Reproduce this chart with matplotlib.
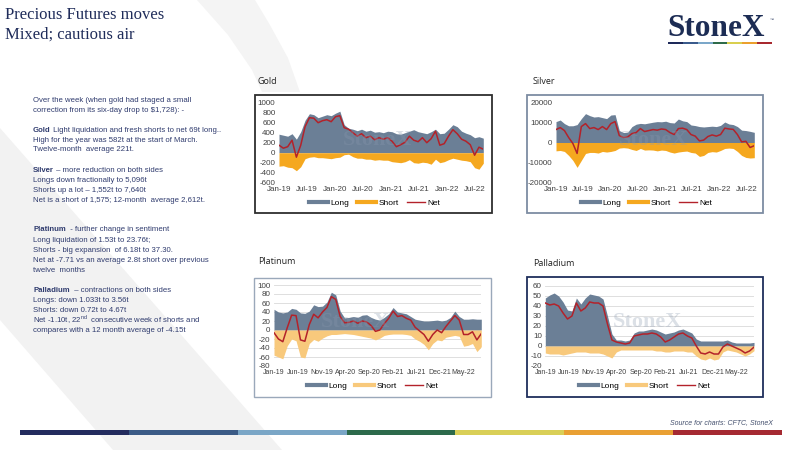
import pandas as pd
import matplotlib.pyplot as plt
from matplotlib.lines import Line2D
from matplotlib.patches import Rectangle, Polygon

plt.rcParams['font.family'] = ['Liberation Sans', 'DejaVu Sans']
plt.rcParams['axes.unicode_minus'] = False
plt.rcParams['mathtext.fontset'] = 'custom'
plt.rcParams['mathtext.rm'] = 'Liberation Sans'

# weekly CFTC positions, sampled roughly every four weeks (tonnes)
start, end = '2019-01-01', '2022-08-23'

gold_long = [370, 350, 330, 380, 270, 420, 650, 780, 760, 700, 730, 760, 740, 790, 830, 560,
             490, 470, 440, 470, 430, 450, 410, 420, 400, 430, 420, 380, 370, 400, 430, 460,
             420, 400, 380, 420, 470, 380, 390, 470, 560, 520, 430, 390, 360, 300, 320, 290]
gold_short = [-270, -260, -290, -300, -360, -280, -120, -90, -80, -100, -100, -110, -120, -100, -90, -40,
              -30, -80, -110, -110, -130, -130, -150, -140, -150, -150, -180, -190, -200, -180, -140, -200,
              -210, -190, -200, -230, -130, -200, -180, -140, -110, -130, -150, -160, -180, -300, -330, -210]
gold_net = [150, 90, 120, 250, -90, 150, 520, 700, 690, 600, 640, 660, 620, 720, 740, 500,
            470, 400, 330, 380, 300, 330, 260, 300, 270, 300, 230, 120, 160, 210, 330, 250,
            220, 300, 200, 280, 430, 150, 180, 330, 460, 380, 270, 230, 160, -50, 110, 70]

silver_long = [10500, 11300, 9500, 8400, 8400, 9000, 12000, 14500, 13500, 12800, 13000, 12500,
               12000, 13800, 14000, 6000, 5000, 5200, 8000, 9200, 9600, 9400, 9800, 10200,
               10500, 10400, 10700, 10000, 9800, 11800, 10900, 10500, 8800, 8500, 8000, 7800,
               8000, 8200, 8000, 8600, 10300, 9300, 9000, 8000, 6200, 6000, 5600, 5100]
silver_short = [-4200, -4000, -4500, -6500, -9000, -12500, -9000, -5500, -5000, -5000, -5300, -4500,
                -4800, -4500, -4000, -2800, -2600, -2800, -3500, -4000, -3000, -3800, -3700, -3800,
                -4200, -3800, -4000, -4800, -5300, -4800, -4500, -4300, -5000, -5300, -7000, -6500,
                -5000, -4600, -4800, -4000, -3000, -2800, -3000, -4500, -6500, -7500, -7800, -7640]
silver_net = [6500, 7500, 6000, 2500, -500, -5500, 8000, 9500, 7000, 7500, 6500, 8000,
              6500, 9500, 10500, 3500, 2500, 2800, 4500, 5000, 7000, 5500, 6000, 6500,
              6200, 6800, 6500, 5000, 4000, 7000, 7200, 6500, 4000, 3200, 800, 1200,
              3000, 3800, 3200, 4000, 7200, 6800, 6600, 4000, 300, 600, -2500, -1600]

plat_long = [46, 40, 38, 40, 48, 46, 38, 37, 42, 56, 52, 53, 62, 84, 78, 42,
             27, 28, 30, 28, 33, 34, 28, 24, 22, 28, 36, 50, 40, 38, 36, 30,
             24, 22, 20, 20, 21, 22, 20, 22, 28, 42, 30, 24, 24, 25, 24, 24]
plat_short = [-56, -60, -64, -35, -20, -24, -60, -62, -30, -21, -25, -18, -13, -10, -10, -9,
              -8, -9, -10, -12, -14, -16, -18, -22, -18, -12, -10, -9, -9, -9, -10, -12,
              -20, -25, -32, -44, -30, -22, -24, -16, -14, -12, -14, -36, -34, -30, -48, -37]
plat_net = [-6, -20, -26, 5, 33, 32, -22, -25, 12, 35, 27, 40, 50, 74, 68, 30,
            16, 17, 20, 15, 20, 18, 10, -3, 0, 14, 26, 42, 30, 32, 26, 22,
            6, -2, -10, -25, -10, 0, -6, 8, 20, 32, 22, -10, -10, -4, -22, -8]

pall_long = [48, 51, 53, 50, 44, 36, 35, 48, 42, 48, 52, 51, 50, 47, 30, 12,
             6, 6, 5, 6, 13, 15, 15, 16, 17, 16, 14, 12, 13, 14, 16, 17,
             15, 13, 7, 5, 5, 5, 5, 5, 5, 6, 4, 3, 3, 3, 3, 3.6]
pall_short = [-7, -8, -8, -8, -9, -8, -7, -6, -6, -6, -7, -7, -7, -8, -10, -12,
              -6, -4, -4, -4, -4, -4, -4, -4, -4, -5, -5, -6, -6, -5, -5, -5,
              -6, -6, -10, -13, -14, -12, -14, -13, -6, -4, -5, -6, -8, -10, -8, -4.7]
pall_net = [43, 41, 42, 40, 33, 27, 30, 43, 35, 38, 44, 43, 43, 40, 22, 6,
            4, 3, 2, 3, 10, 11, 12, 12, 13, 12, 9, 4, 6, 9, 12, 13,
            10, 8, 0, -7, -8, -6, -8, -8, -1, 2, 0, -2, -4, -7, -5, -1.1]

LONG = '#6B7F96'
NET = '#B3222A'
ORANGE = '#F5A81F'
PALE = '#F8C97C'
NAVY = '#1F2C5A'
BODY = '#2F3B6E'

W, H = 800, 450
fig = plt.figure(figsize=(8, 4.5), dpi=100)
fig.patch.set_facecolor('white')


def fx(x):
    return x / W


def fy(y):
    return 1 - y / H


# faint background swoosh
fig.add_artist(Polygon([(fx(0), fy(128)), (fx(282), fy(450)), (fx(113), fy(450)), (fx(0), fy(320))],
                       closed=True, transform=fig.transFigure, facecolor='#F2F2F2',
                       edgecolor='none', zorder=0))
fig.add_artist(Polygon([(fx(197), fy(0)), (fx(228), fy(35)), (fx(252), fy(70)), (fx(262), fy(92)),
                        (fx(300), fy(92)), (fx(288), fy(58)), (fx(270), fy(25)), (fx(255), fy(0))],
                       closed=True, transform=fig.transFigure, facecolor='#F4F4F4',
                       edgecolor='none', zorder=0))

# header
fig.text(fx(5), fy(15), 'Precious Futures moves', family='Liberation Serif', size=12,
         color=NAVY, va='center')
fig.text(fx(5), fy(35), 'Mixed; cautious air', family='Liberation Serif', size=12,
         color=NAVY, va='center')

# logo
fig.text(fx(667), fy(28), 'StoneX', family='Liberation Serif', weight='bold', size=22.5,
         color='#1C2C54', va='center')
fig.text(fx(770), fy(20), '\u2122', size=3, color='#1C2C54', va='center')
logo_colors = ['#1E2A5A', '#3A5B8C', '#7BA7C9', '#2E6B4A', '#D9CF4F', '#EBA02E', '#A8292F']
seg = (772 - 668) / len(logo_colors)
for i, c in enumerate(logo_colors):
    fig.add_artist(Rectangle((fx(668 + i * seg), fy(44)), seg / W, 2.5 / H,
                             transform=fig.transFigure, facecolor=c, edgecolor='none'))

# footer bar
foot_colors = ['#232C5E', '#3B5B86', '#7AA6C6', '#2D6A4B', '#D9CF57', '#E9A033', '#A52A32']
seg = (782 - 20) / len(foot_colors)
for i, c in enumerate(foot_colors):
    fig.add_artist(Rectangle((fx(20 + i * seg), fy(435)), seg / W, 5.5 / H,
                             transform=fig.transFigure, facecolor=c, edgecolor='none'))
fig.text(fx(773), fy(423), 'Source for charts: CFTC, StoneX', ha='right', va='center',
         style='italic', size=5, color='#44506E')

# commentary
renderer = fig.canvas.get_renderer()
kw = dict(size=5.6, color=BODY, va='center')


def line(y, text, bold=None):
    x = fx(33)
    if bold:
        t = fig.text(x, fy(y), bold, weight='bold', **kw)
        bb = t.get_window_extent(renderer)
        x = bb.x1 / W
    fig.text(x, fy(y), text, **kw)


line(100, 'Over the week (when gold had staged a small')
line(110, r'correction from its six-day drop to \$1,728): -')
line(130, ' Light liquidation and fresh shorts to net 69t long..', 'Gold')
line(140, 'High for the year was 582t at the start of March.')
line(150, 'Twelve-month  average 221t.')
line(170, ' \u2013 more reduction on both sides', 'Silver')
line(180, 'Longs down fractionally to 5,096t')
line(190, 'Shorts up a lot \u2013 1,552t to 7,640t')
line(200, 'Net is a short of 1,575; 12-month  average 2,612t.')
line(230, '  - further change in sentiment', 'Platinum')
line(240, 'Long liquidation of 1.53t to 23.76t;')
line(250, 'Shorts - big expansion  of 6.18t to 37.30.')
line(260, 'Net at -7.71 vs an average 2.8t short over previous')
line(270, 'twelve  months')
line(290, '  \u2013 contractions on both sides', 'Palladium')
line(300, 'Longs: down 1.033t to 3.56t')
line(310, 'Shorts: down 0.72t to 4.67t')
line(320, r'Net -1.10t, 22$^{\mathrm{nd}}$  consecutive week of shorts and')
line(330, 'compares with a 12 month average of -4.15t')


def panel(title, long, short, net, area, box, frame, ylim, yticks, short_color,
          xticks, xsize, grid, legend_xy, title_xy, mark_xy):
    dates = pd.date_range(start, end, periods=len(long))
    x0, x1, ytop, ybot = area
    ax = fig.add_axes([fx(x0), fy(ybot), (x1 - x0) / W, (ybot - ytop) / H])
    ax.fill_between(dates, 0, long, color=LONG, lw=0)
    ax.fill_between(dates, 0, short, color=short_color, lw=0)
    ax.plot(dates, net, color=NET, lw=1.1)
    ax.set_xlim(dates[0], dates[-1])
    ax.set_ylim(*ylim)
    ax.set_yticks(yticks, labels=[str(t) for t in yticks])
    ax.set_xticks(xticks, labels=[d.strftime('%b-%y') for d in xticks])
    ax.tick_params(length=0, labelsize=5.8, labelcolor='#404040', pad=2.5)
    ax.tick_params(axis='x', labelsize=xsize)
    for s in ax.spines.values():
        s.set_visible(False)
    if grid:
        ax.yaxis.grid(True, color='#D9D9D9', lw=0.6)
        ax.set_axisbelow(True)
    handles = [Line2D([0], [0], color=LONG, lw=3),
               Line2D([0], [0], color=short_color, lw=3),
               Line2D([0], [0], color=NET, lw=1)]
    ax.legend(handles, ['Long', 'Short', 'Net'], loc='center',
              bbox_to_anchor=(fx(legend_xy[0]), fy(legend_xy[1])),
              bbox_transform=fig.transFigure, ncol=3, frameon=False, fontsize=6,
              handlelength=2.2, handletextpad=0.3, columnspacing=1.0)
    bx0, by0, bx1, by1 = box
    fig.add_artist(Rectangle((fx(bx0), fy(by1)), (bx1 - bx0) / W, (by1 - by0) / H,
                             transform=fig.transFigure, facecolor='none',
                             edgecolor=frame[0], lw=frame[1]))
    fig.text(fx(title_xy[0]), fy(title_xy[1]), title, family='Open Sans', size=6.5,
             color='#222222', va='center')
    fig.text(fx(mark_xy[0]), fy(mark_xy[1]), 'StoneX', family='Liberation Serif',
             weight='bold', size=16, color='#8A99AE', alpha=0.3, ha='center', va='center')


six = pd.date_range('2019-01-01', '2022-07-01', freq='6MS')
five = pd.date_range('2019-01-01', '2022-05-01', freq='5MS')

panel('Gold', gold_long, gold_short, gold_net, (279, 483.3, 102.7, 182.7),
      (255, 95, 492, 213), ('#2E2E2E', 1.3), (-600, 1000), list(range(1000, -601, -200)),
      ORANGE, six, 5.8, False, (375, 203), (257.7, 82), (378, 140))
panel('Silver', silver_long, silver_short, silver_net, (556, 754.3, 102.7, 182.3),
      (527, 95, 763, 213), ('#7D8CA3', 1.3), (-20000, 20000), [20000, 10000, 0, -10000, -20000],
      ORANGE, six, 5.8, False, (647, 203), (532.7, 82), (653, 140))
panel('Platinum', plat_long, plat_short, plat_net, (274, 481.3, 285, 366),
      (254, 278, 491, 397), ('#9AA8BA', 1.0), (-80, 100), list(range(100, -81, -20)),
      PALE, five, 5.0, True, (373, 386), (257.7, 262), (355, 322))
panel('Palladium', pall_long, pall_short, pall_net, (545.3, 754, 286, 366),
      (527, 277, 763, 397), ('#1F2E5C', 1.3), (-20, 60), list(range(60, -21, -10)),
      PALE, five, 5.0, True, (645, 386), (532.7, 263), (648, 322))

fig.savefig('out.png', dpi=100)
